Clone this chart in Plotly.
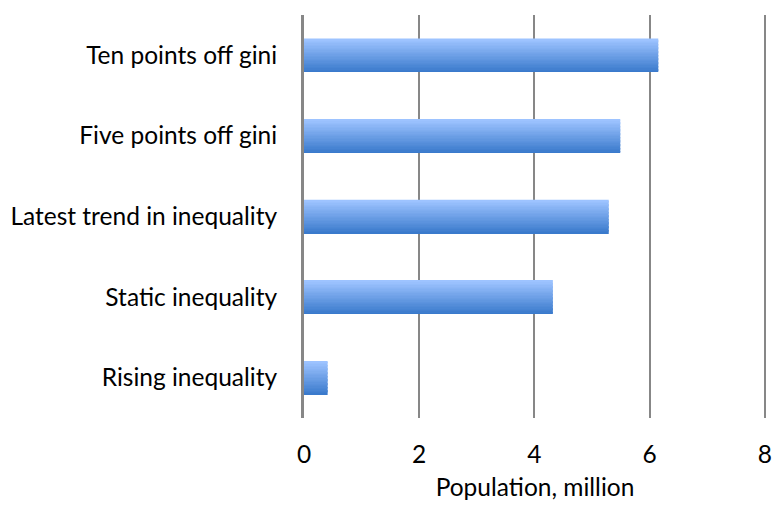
import plotly.graph_objects as go

categories = ["Rising inequality", "Static inequality", "Latest trend in inequality",
              "Five points off gini", "Ten points off gini"]
population_million = [0.41, 4.32, 5.29, 5.49, 6.15]
x_ticks = [0, 2, 4, 6, 8]

FONT = "Lato"
FS = 24.5
bar_w = 0.41
n_slices = 24
top_rgb = (157, 195, 255)
bot_rgb = (58, 122, 204)

fig = go.Figure()
for i in range(n_slices):
    t = i / (n_slices - 1)  # 0 bottom, 1 top
    c = tuple(round(b + (tp - b) * t) for b, tp in zip(bot_rgb, top_rgb))
    fig.add_trace(go.Bar(
        y=categories, x=population_million, orientation="h",
        width=bar_w / n_slices + 0.002,
        offset=-bar_w / 2 + i * bar_w / n_slices,
        marker=dict(color="rgb(%d,%d,%d)" % c, line=dict(width=0)),
        showlegend=False, hoverinfo="skip" if i else "x+y",
    ))

fig.update_layout(
    width=774, height=506,
    margin=dict(l=304, r=8, t=15, b=88),
    paper_bgcolor="white", plot_bgcolor="white",
    barmode="overlay",
    font=dict(family=FONT, size=FS, color="#000000"),
    xaxis=dict(
        range=[0, 8.02], tickvals=x_ticks, ticktext=[str(v) for v in x_ticks],
        showgrid=True, gridcolor="#878787", gridwidth=2,
        zeroline=False, showline=False, automargin=False,
        ticks="", ticklabelstandoff=19,
        tickfont=dict(family=FONT, size=FS),
        title=dict(text="Population, million", font=dict(family=FONT, size=FS), standoff=12),
        fixedrange=True,
    ),
    yaxis=dict(
        categoryorder="array", categoryarray=categories,
        showgrid=False, zeroline=False, automargin=False,
        showline=True, linecolor="#878787", linewidth=3,
        ticks="", ticklabelstandoff=19,
        tickfont=dict(family=FONT, size=FS),
        fixedrange=True,
    ),
)

fig.write_html(
    "out.html",
    config={"displayModeBar": False},
    post_script="document.body.style.margin='0';document.body.style.overflow='hidden';",
)
